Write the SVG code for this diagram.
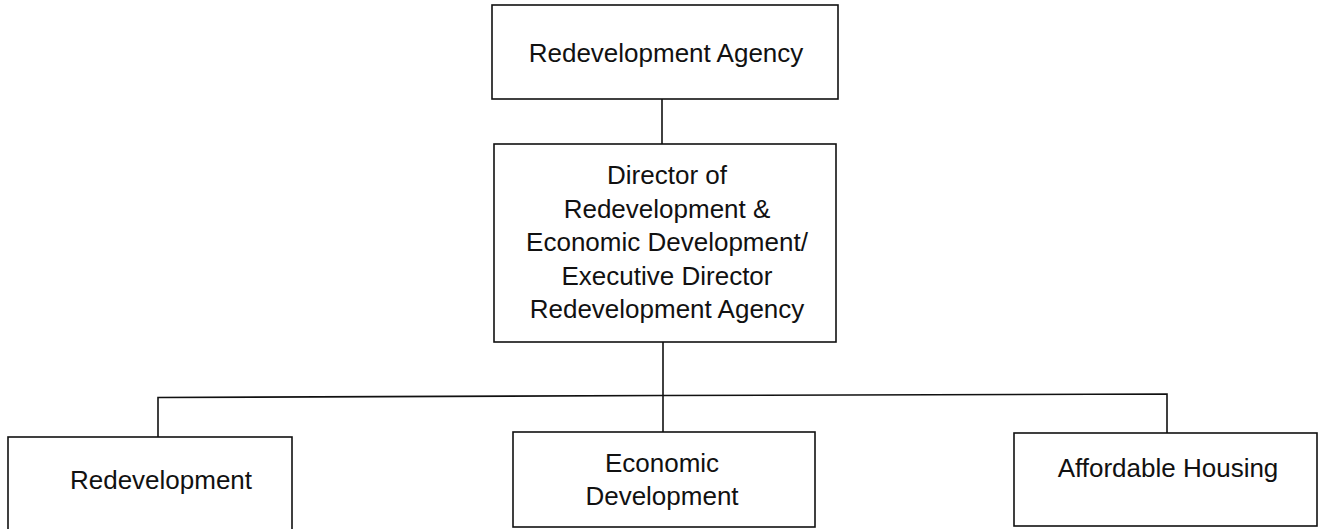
<svg xmlns="http://www.w3.org/2000/svg" width="1320" height="529" viewBox="0 0 1320 529">
  <style>
    .box { fill: #ffffff; stroke: #111111; stroke-width: 1.6; }
    .label { font-family: "Liberation Sans", Arial, sans-serif; font-size: 26px; fill: #111111; text-anchor: middle; }
    .link { fill: none; stroke: #111111; stroke-width: 1.6; }
  </style>
  <rect width="1320" height="529" fill="#ffffff"/>

  <!-- reporting lines -->
  <g id="connectors">
    <line class="link" x1="662" y1="99" x2="662" y2="144"/>
    <line class="link" x1="663" y1="342" x2="663" y2="432"/>
    <polyline class="link" points="158,437 158,397.5 663,395.5 1167,394 1167,433"/>
  </g>

  <g id="agency">
    <rect class="box" x="492" y="5" width="346" height="94"/>
    <text class="label" x="666" y="62">Redevelopment Agency</text>
  </g>

  <g id="director">
    <rect class="box" x="494" y="144" width="342" height="198"/>
    <text class="label" x="667" y="184">Director of</text>
    <text class="label" x="667" y="217.5">Redevelopment &amp;</text>
    <text class="label" x="667" y="251">Economic Development/</text>
    <text class="label" x="667" y="284.5">Executive Director</text>
    <text class="label" x="667" y="318">Redevelopment Agency</text>
  </g>

  <g id="redevelopment">
    <rect class="box" x="8" y="437" width="284" height="100"/>
    <text class="label" x="161" y="489">Redevelopment</text>
  </g>

  <g id="economic-development">
    <rect class="box" x="513" y="432" width="302" height="95"/>
    <text class="label" x="662" y="472">Economic</text>
    <text class="label" x="662" y="505">Development</text>
  </g>

  <g id="affordable-housing">
    <rect class="box" x="1014" y="433" width="303" height="93"/>
    <text class="label" x="1168" y="477">Affordable Housing</text>
  </g>
</svg>
